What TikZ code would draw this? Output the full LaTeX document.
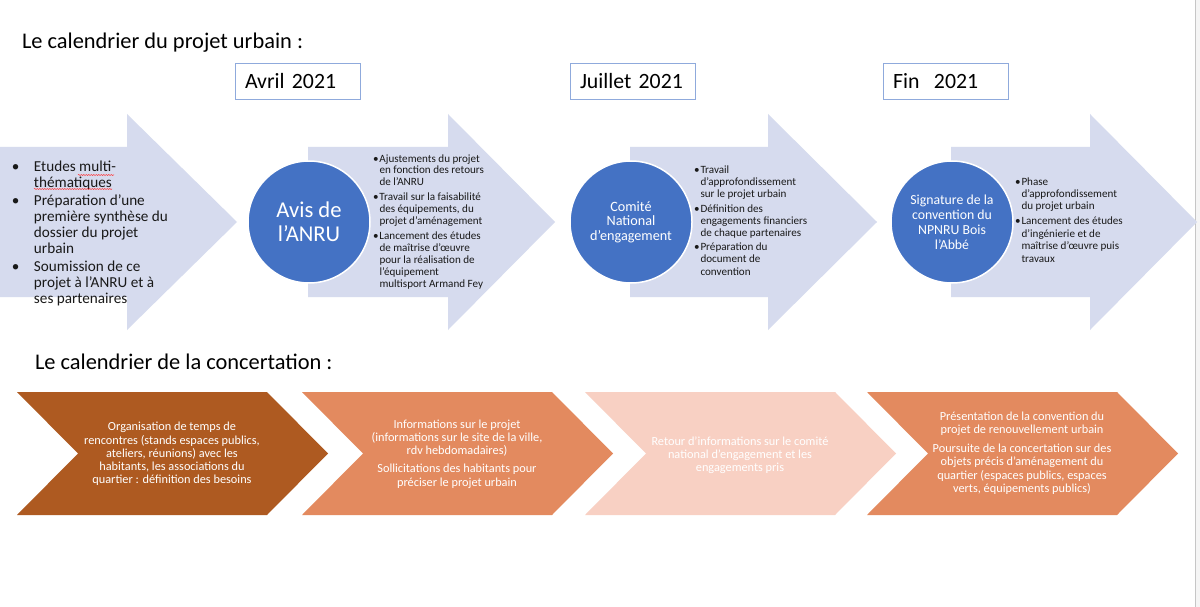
\documentclass[tikz,border=0pt]{standalone}
\usepackage{fontspec}
\setmainfont{Carlito}
\usetikzlibrary{decorations.pathmorphing}
\definecolor{arrowfill}{HTML}{D6DBEE}
\definecolor{discblue}{HTML}{4472C4}
\definecolor{boxblue}{HTML}{8FAADC}
\definecolor{rust}{HTML}{AE5A21}
\definecolor{salmon}{HTML}{E38A5F}
\definecolor{blush}{HTML}{F8D0C3}

\begin{document}
\begin{tikzpicture}[x=1pt,y=-1pt]
\tikzset{every node/.style={inner sep=0pt,outer sep=0pt}}
\tikzset{heading/.style={anchor=base west,font=\fontsize{22.4}{26}\selectfont}}
\tikzset{datebox/.style={draw=boxblue,line width=0.9pt,fill=white,anchor=north west,minimum width=125pt,minimum height=36pt,text width=105pt,align=left,font=\fontsize{21.8}{24}\selectfont}}
\tikzset{disc/.style={circle,fill=discblue,draw=white,line width=1.5pt,minimum size=122pt,text=white,align=center}}
\tikzset{steptext/.style={anchor=base west,align=left,text=black!90,font=\fontsize{11.1}{12}\selectfont}}
\tikzset{chevtext/.style={text=white,align=center,font=\fontsize{12.3}{13.2}\selectfont}}
\tikzset{squiggle/.style={red!80,line width=0.5pt,decorate,decoration={snake,amplitude=0.6pt,segment length=2.5pt}}}
\useasboundingbox (0,0) rectangle (1200,607);
\fill[white] (0,0) rectangle (1200,607);
\fill[gray!8] (1195,0) rectangle (1200,607);
\draw[gray!45] (1195,0) -- (1195,607);

% fleches du projet urbain
\foreach \xa/\xb/\xc in {0/127/237,308/448/555,630/768/877,951/1090/1197}
  \fill[arrowfill] (\xa,147) -- (\xb,147) -- (\xb,114) -- (\xc,222) -- (\xb,330) -- (\xb,297) -- (\xa,297) -- cycle;

% chevrons de la concertation
\foreach \xa/\col in {17/rust,302/salmon,585/blush,867/salmon}
  \fill[\col] (\xa,392) -- ++(250,0) -- ++(61,61.5) -- ++(-61,61.5) -- ++(-250,0) -- ++(61,-61.5) -- cycle;

\node[heading] (title) at (22,49) {Le calendrier du projet urbain :};
\node[heading] (concert) at (35,369) {Le calendrier de la concertation :};

\node[datebox] (avril) at (235,63) {Avril 2021};
\node[datebox] (juillet) at (570,63) {Juillet 2021};
\node[datebox] (fin) at (883,63) {Fin\ \ 2021};

\node[disc,font=\fontsize{22.6}{24}\selectfont] (anru) at (309,222) {Avis de\\l’ANRU};
\node[disc,font=\fontsize{14.2}{14.5}\selectfont] (comite) at (631,222) {Comité\\National\\d’engagement};
\node[disc,font=\fontsize{13.8}{15}\selectfont] (signature) at (952,222) {Signature de la\\convention du\\NPNRU Bois\\l’Abbé};

\node[steptext,font=\fontsize{15.2}{15.8}\selectfont] (etudes) at (12,303) {\makebox[22pt][l]{\textbullet}Etudes multi-\\
\hspace*{22pt}thématiques\\[2.5pt]
\makebox[22pt][l]{\textbullet}Préparation d’une\\
\hspace*{22pt}première synthèse du\\
\hspace*{22pt}dossier du projet\\
\hspace*{22pt}urbain\\[2.5pt]
\makebox[22pt][l]{\textbullet}Soumission de ce\\
\hspace*{22pt}projet à l’ANRU et à\\
\hspace*{22pt}ses partenaires};
\draw[squiggle] (78,175) -- (114,175);
\draw[squiggle] (34,189) -- (112,189);

\node[steptext,font=\fontsize{11.1}{11.8}\selectfont] (ajust) at (373,287) {\makebox[6.5pt][l]{\textbullet}Ajustements du projet\\
\hspace*{6.5pt}en fonction des retours\\
\hspace*{6.5pt}de l’ANRU\\[3.5pt]
\makebox[6.5pt][l]{\textbullet}Travail sur la faisabilité\\
\hspace*{6.5pt}des équipements, du\\
\hspace*{6.5pt}projet d’aménagement\\[3.5pt]
\makebox[6.5pt][l]{\textbullet}Lancement des études\\
\hspace*{6.5pt}de maîtrise d’œuvre\\
\hspace*{6.5pt}pour la réalisation de\\
\hspace*{6.5pt}l’équipement\\
\hspace*{6.5pt}multisport Armand Fey};

\node[steptext,font=\fontsize{11.1}{12.1}\selectfont] (travail) at (694,275) {\makebox[6.5pt][l]{\textbullet}Travail\\
\hspace*{6.5pt}d’approfondissement\\
\hspace*{6.5pt}sur le projet urbain\\[2.5pt]
\makebox[6.5pt][l]{\textbullet}Définition des\\
\hspace*{6.5pt}engagements financiers\\
\hspace*{6.5pt}de chaque partenaires\\[2.5pt]
\makebox[6.5pt][l]{\textbullet}Préparation du\\
\hspace*{6.5pt}document de\\
\hspace*{6.5pt}convention};

\node[steptext,font=\fontsize{11.1}{12.4}\selectfont] (phase) at (1015,262) {\makebox[6.5pt][l]{\textbullet}Phase\\
\hspace*{6.5pt}d’approfondissement\\
\hspace*{6.5pt}du projet urbain\\[2.5pt]
\makebox[6.5pt][l]{\textbullet}Lancement des études\\
\hspace*{6.5pt}d’ingénierie et de\\
\hspace*{6.5pt}maîtrise d’œuvre puis\\
\hspace*{6.5pt}travaux};

\node[chevtext] (orga) at (172,454) {Organisation de temps de\\rencontres (stands espaces publics,\\ateliers, réunions) avec les\\habitants, les associations du\\quartier : définition des besoins};
\node[chevtext] (infos) at (457,454) {Informations sur le projet\\(informations sur le site de la ville,\\rdv hebdomadaires)\\[5pt]Sollicitations des habitants pour\\préciser le projet urbain};
\node[chevtext] (retour) at (740,455) {Retour d’informations sur le comité\\national d’engagement et les\\engagements pris};
\node[chevtext] (presentation) at (1022,453) {Présentation de la convention du\\projet de renouvellement urbain\\[6pt]Poursuite de la concertation sur des\\objets précis d’aménagement du\\quartier (espaces publics, espaces\\verts, équipements publics)};
\end{tikzpicture}
\end{document}
